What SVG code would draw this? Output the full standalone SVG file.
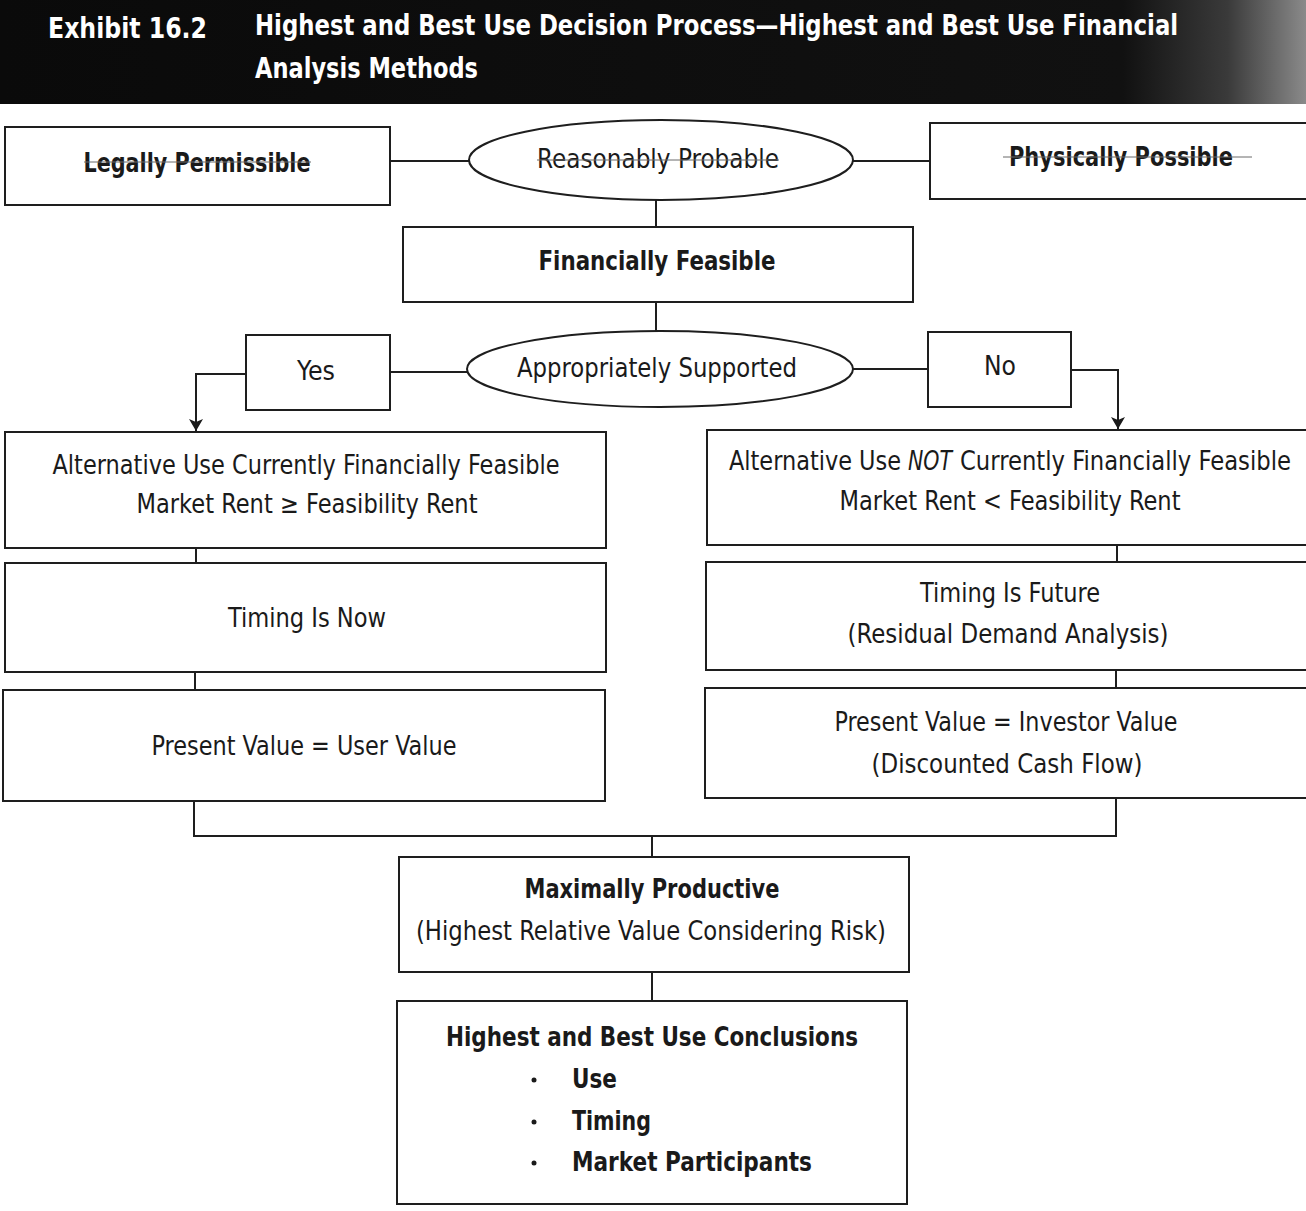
<svg xmlns="http://www.w3.org/2000/svg" width="1306" height="1211" viewBox="0 0 1306 1211">
  <defs>
    <linearGradient id="bandFade" x1="0" y1="0" x2="1" y2="0">
      <stop offset="0" stop-color="#0a0a0a"/>
      <stop offset="0.86" stop-color="#111"/>
      <stop offset="0.94" stop-color="#3a3a3a"/>
      <stop offset="1" stop-color="#8a8a8a"/>
    </linearGradient>
    <marker id="arrow" viewBox="0 0 12 14" refX="12" refY="7" markerWidth="12" markerHeight="14" markerUnits="userSpaceOnUse" orient="auto">
      <path d="M0,0 L12,7 L0,14 L3,7 z" fill="#1a1a1a"/>
    </marker>
    <style>
      .box { fill: #fff; stroke: #1e1e1e; stroke-width: 2; }
      .wire { fill: none; stroke: #1e1e1e; stroke-width: 2; }
      .strike { stroke: #6a6a6a; stroke-width: 1; }
      text { font-family: "DejaVu Sans Condensed", "Liberation Sans Narrow", "Liberation Sans", sans-serif; fill: #1a1a1a; }
      .lbl { font-size: 26px; text-anchor: middle; }
      .left { font-size: 26px; }
      .bold { font-weight: bold; }
      .head { fill: #fff; font-size: 29px; font-weight: bold; }
      .item { font-size: 26px; font-weight: bold; }
    </style>
  </defs>

  <rect width="1306" height="1211" fill="#fff"/>

  <!-- title band; the long first title line is narrowed horizontally -->
  <g id="header">
    <rect x="0" y="0" width="1306" height="104" fill="url(#bandFade)"/>
    <text class="head" x="48" y="38" textLength="159" lengthAdjust="spacingAndGlyphs">Exhibit 16.2</text>
    <text class="head" transform="translate(255,35) scale(0.85,1)" x="0" y="0" textLength="1086" lengthAdjust="spacingAndGlyphs">Highest and Best Use Decision Process—Highest and Best Use Financial</text>
    <text class="head" x="255" y="78" textLength="223" lengthAdjust="spacingAndGlyphs">Analysis Methods</text>
  </g>

  <!-- connectors -->
  <g id="connectors">
    <line class="wire" x1="390" y1="161" x2="470" y2="161"/>
    <line class="wire" x1="853" y1="161" x2="930" y2="161"/>
    <line class="wire" x1="656" y1="200" x2="656" y2="227"/>
    <line class="wire" x1="656" y1="302" x2="656" y2="332"/>
    <line class="wire" x1="390" y1="372" x2="468" y2="372"/>
    <line class="wire" x1="853" y1="369" x2="928" y2="369"/>
    <polyline class="wire" points="246,374 196,374 196,431" marker-end="url(#arrow)"/>
    <polyline class="wire" points="1071,370 1118,370 1118,429" marker-end="url(#arrow)"/>
    <line class="wire" x1="196" y1="548" x2="196" y2="563"/>
    <line class="wire" x1="1117" y1="545" x2="1117" y2="562"/>
    <line class="wire" x1="195" y1="672" x2="195" y2="690"/>
    <line class="wire" x1="1116" y1="670" x2="1116" y2="688"/>
    <polyline class="wire" points="194,801 194,836 1116,836 1116,798"/>
    <line class="wire" x1="652" y1="836" x2="652" y2="857"/>
    <line class="wire" x1="652" y1="972" x2="652" y2="1001"/>
  </g>

  <g id="legally-permissible">
    <rect class="box" x="5" y="127" width="385" height="78"/>
    <text class="lbl bold" x="197" y="172" textLength="227" lengthAdjust="spacingAndGlyphs">Legally Permissible</text>
    <line class="strike" x1="84" y1="162" x2="311" y2="162"/>
  </g>

  <g id="reasonably-probable">
    <ellipse class="box" cx="661" cy="160" rx="192" ry="40"/>
    <text class="lbl" x="658" y="168" textLength="242" lengthAdjust="spacingAndGlyphs">Reasonably Probable</text>
    <line class="strike" x1="537" y1="160" x2="779" y2="160"/>
  </g>

  <g id="physically-possible">
    <rect class="box" x="930" y="123" width="380" height="76"/>
    <text class="lbl bold" x="1121" y="166" textLength="224" lengthAdjust="spacingAndGlyphs">Physically Possible</text>
    <line class="strike" x1="1003" y1="157" x2="1252" y2="157"/>
  </g>

  <g id="financially-feasible">
    <rect class="box" x="403" y="227" width="510" height="75"/>
    <text class="lbl bold" x="657" y="270" textLength="237" lengthAdjust="spacingAndGlyphs">Financially Feasible</text>
  </g>

  <g id="appropriately-supported">
    <ellipse class="box" cx="660" cy="369" rx="193" ry="38"/>
    <text class="lbl" x="657" y="377" textLength="280" lengthAdjust="spacingAndGlyphs">Appropriately Supported</text>
  </g>

  <g id="yes">
    <rect class="box" x="246" y="335" width="144" height="75"/>
    <text class="lbl" x="316" y="380" textLength="38" lengthAdjust="spacingAndGlyphs">Yes</text>
  </g>

  <g id="no">
    <rect class="box" x="928" y="332" width="143" height="75"/>
    <text class="lbl" x="1000" y="375" textLength="32" lengthAdjust="spacingAndGlyphs">No</text>
  </g>

  <g id="feasible-now">
    <rect class="box" x="5" y="432" width="601" height="116"/>
    <text class="lbl" x="306" y="474" textLength="507" lengthAdjust="spacingAndGlyphs">Alternative Use Currently Financially Feasible</text>
    <text class="lbl" x="307" y="513" textLength="341" lengthAdjust="spacingAndGlyphs">Market Rent ≥ Feasibility Rent</text>
  </g>

  <g id="not-feasible-now">
    <rect class="box" x="707" y="430" width="603" height="115"/>
    <text class="left" x="729" y="470" textLength="172" lengthAdjust="spacingAndGlyphs">Alternative Use</text>
    <text class="left" x="908" y="470" font-style="italic" textLength="44" lengthAdjust="spacingAndGlyphs">NOT</text>
    <text class="left" x="960" y="470" textLength="331" lengthAdjust="spacingAndGlyphs">Currently Financially Feasible</text>
    <text class="lbl" x="1010" y="510" textLength="341" lengthAdjust="spacingAndGlyphs">Market Rent &lt; Feasibility Rent</text>
  </g>

  <g id="timing-now">
    <rect class="box" x="5" y="563" width="601" height="109"/>
    <text class="lbl" x="307" y="627" textLength="158" lengthAdjust="spacingAndGlyphs">Timing Is Now</text>
  </g>

  <g id="timing-future">
    <rect class="box" x="706" y="562" width="604" height="108"/>
    <text class="lbl" x="1010" y="602" textLength="180" lengthAdjust="spacingAndGlyphs">Timing Is Future</text>
    <text class="lbl" x="1008" y="643" textLength="321" lengthAdjust="spacingAndGlyphs">(Residual Demand Analysis)</text>
  </g>

  <g id="user-value">
    <rect class="box" x="3" y="690" width="602" height="111"/>
    <text class="lbl" x="304" y="755" textLength="305" lengthAdjust="spacingAndGlyphs">Present Value = User Value</text>
  </g>

  <g id="investor-value">
    <rect class="box" x="705" y="688" width="605" height="110"/>
    <text class="lbl" x="1006" y="731" textLength="343" lengthAdjust="spacingAndGlyphs">Present Value = Investor Value</text>
    <text class="lbl" x="1007" y="773" textLength="271" lengthAdjust="spacingAndGlyphs">(Discounted Cash Flow)</text>
  </g>

  <g id="maximally-productive">
    <rect class="box" x="399" y="857" width="510" height="115"/>
    <text class="lbl bold" x="652" y="898" textLength="255" lengthAdjust="spacingAndGlyphs">Maximally Productive</text>
    <text class="lbl" x="651" y="940" textLength="470" lengthAdjust="spacingAndGlyphs">(Highest Relative Value Considering Risk)</text>
  </g>

  <g id="conclusions">
    <rect class="box" x="397" y="1001" width="510" height="203"/>
    <text class="lbl bold" x="652" y="1046" textLength="412" lengthAdjust="spacingAndGlyphs">Highest and Best Use Conclusions</text>
    <circle cx="534" cy="1080" r="2.5" fill="#1a1a1a"/>
    <circle cx="534" cy="1122" r="2.5" fill="#1a1a1a"/>
    <circle cx="534" cy="1163" r="2.5" fill="#1a1a1a"/>
    <text class="item" x="572" y="1088" textLength="45" lengthAdjust="spacingAndGlyphs">Use</text>
    <text class="item" x="572" y="1130" textLength="79" lengthAdjust="spacingAndGlyphs">Timing</text>
    <text class="item" x="572" y="1171" textLength="240" lengthAdjust="spacingAndGlyphs">Market Participants</text>
  </g>
</svg>
